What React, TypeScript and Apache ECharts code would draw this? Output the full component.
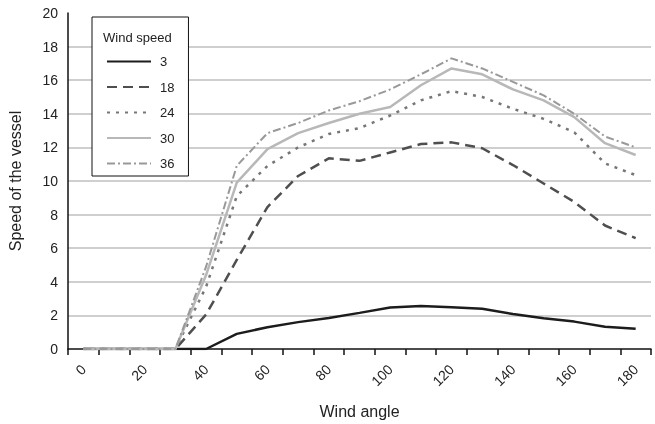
import React, { useEffect, useRef } from "react";
import * as echarts from "echarts";

const windAngles = ["0", "10", "20", "30", "40", "50", "60", "70", "80", "90", "100", "110", "120", "130", "140", "150", "160", "170", "180"];
const speed3 = [0, 0, 0, 0, 0, 0.9, 1.3, 1.6, 1.85, 2.15, 2.47, 2.56, 2.48, 2.4, 2.08, 1.83, 1.63, 1.33, 1.21];
const speed18 = [0, 0, 0, 0, 2.05, 5.3, 8.45, 10.3, 11.35, 11.2, 11.7, 12.2, 12.3, 11.95, 10.95, 9.85, 8.75, 7.35, 6.6];
const speed24 = [0, 0, 0, 0, 3.7, 9.1, 10.9, 12.0, 12.8, 13.15, 13.9, 14.8, 15.35, 15.0, 14.3, 13.7, 12.9, 11.05, 10.35];
const speed30 = [0, 0, 0, 0, 4.4, 9.9, 11.9, 12.85, 13.45, 14.0, 14.4, 15.7, 16.7, 16.35, 15.45, 14.8, 13.8, 12.25, 11.55];
const speed36 = [0, 0, 0, 0, 4.9, 10.9, 12.85, 13.45, 14.2, 14.75, 15.45, 16.35, 17.3, 16.7, 15.9, 15.1, 14.0, 12.65, 12.0];
const seriesNames = ["3", "18", "24", "30", "36"];
const yTicks = [0, 20, 2];

export default function App() {
  const ref = useRef<HTMLDivElement>(null);
  useEffect(() => {
    if (!ref.current) return;
    const chart = echarts.init(ref.current, null, { renderer: "svg" });
    const data = [speed3, speed18, speed24, speed30, speed36];
    const styles = [
      { color: "#1c1c1c", width: 2.5, type: "solid" as any },
      { color: "#4f4f4f", width: 2.5, type: [10, 6] as any },
      { color: "#777777", width: 2.5, type: [3, 6] as any },
      { color: "#b8b8b8", width: 2.5, type: "solid" as any },
      { color: "#999999", width: 2, type: [8, 3, 2, 3] as any },
    ];
    chart.setOption({
      animation: false,
      grid: { left: 68, right: 4, top: 13, bottom: 75, outerBoundsMode: "none", containLabel: false },
      graphic: [
        {
          type: "text",
          left: 103,
          top: 31,
          style: { text: "Wind speed", fontSize: 13, fill: "#222", fontFamily: "Liberation Sans, Arial, sans-serif" },
          z: 100,
        },
      ],
      legend: {
        orient: "vertical",
        left: 92,
        top: 17,
        padding: [38, 14, 6, 14],
        itemGap: 12.5,
        itemWidth: 44,
        itemHeight: 14,
        borderColor: "#111",
        borderWidth: 1,
        backgroundColor: "#fff",
        data: seriesNames,
        itemStyle: { opacity: 0 },
        textStyle: { fontSize: 13, color: "#222", fontFamily: "Liberation Sans, Arial, sans-serif", padding: [0, 0, 0, 4] },
      },
      xAxis: {
        type: "category",
        data: windAngles,
        boundaryGap: true,
        name: "Wind angle",
        nameLocation: "middle",
        nameGap: 54,
        nameTextStyle: { fontSize: 16, color: "#222", fontFamily: "Liberation Sans, Arial, sans-serif" },
        axisLine: { lineStyle: { color: "#111", width: 1.5 } },
        axisTick: { show: true, interval: 0, length: 6, lineStyle: { color: "#111", width: 1.5 } },
        axisLabel: {
          interval: 1,
          rotate: 45,
          margin: 18,
          fontSize: 14,
          color: "#222",
          fontFamily: "Liberation Sans, Arial, sans-serif",
        },
        splitLine: { show: false },
      },
      yAxis: {
        type: "value",
        min: yTicks[0],
        max: yTicks[1],
        interval: yTicks[2],
        name: "Speed of the vessel",
        nameLocation: "middle",
        nameGap: 45,
        nameTextStyle: { fontSize: 16, color: "#222", fontFamily: "Liberation Sans, Arial, sans-serif" },
        axisLine: { show: true, lineStyle: { color: "#111", width: 1.5 } },
        axisTick: { show: false },
        axisLabel: { margin: 10, fontSize: 14, color: "#222", fontFamily: "Liberation Sans, Arial, sans-serif" },
        splitLine: { show: true, showMinLine: false, showMaxLine: false, lineStyle: { color: "#cfcfcf", width: 2 } },
      },
      series: seriesNames.map((n, i) => ({
        name: n,
        type: "line",
        data: data[i],
        symbol: "none",
        showSymbol: false,
        smooth: false,
        color: styles[i].color,
        lineStyle: styles[i],
        z: 2 + i,
      })),
    });
    return () => chart.dispose();
  }, []);
  return <div ref={ref} style={{ position: "fixed", left: 0, top: 0, width: 655, height: 424 }} />;
}
